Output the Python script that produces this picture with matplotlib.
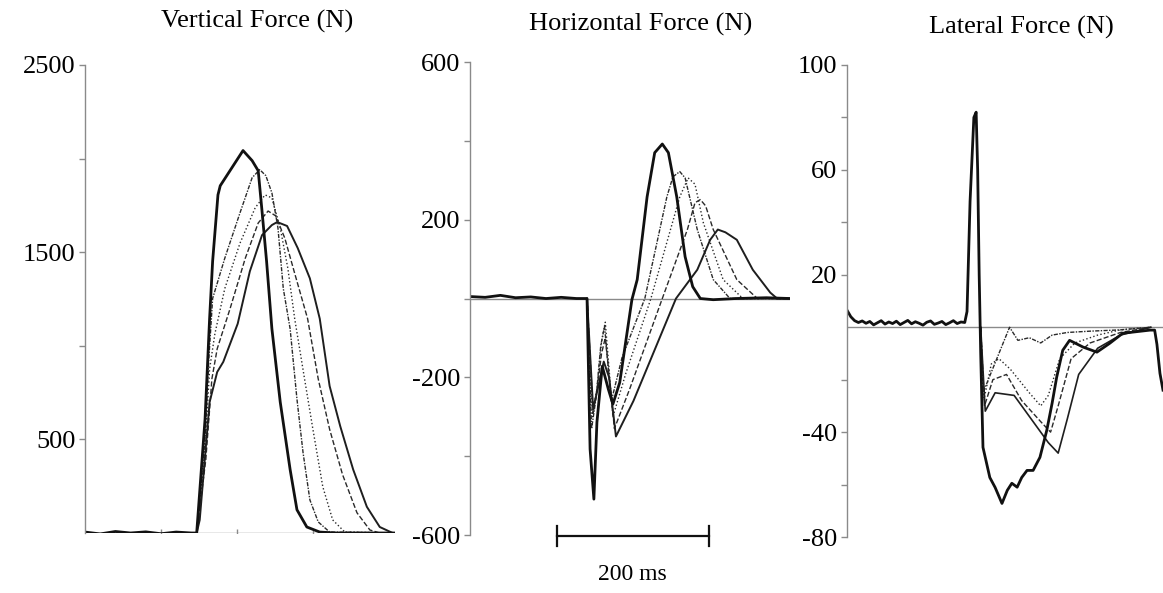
import numpy as np
import matplotlib
matplotlib.use('Agg')
import matplotlib.pyplot as plt

plt.rcParams['font.family'] = 'Liberation Serif'
plt.rcParams['axes.unicode_minus'] = False

# ---- Vertical force (time in ms, force in N) ----
vA_t = [0, 20, 40, 60, 80, 100, 120, 140, 147, 158, 164, 168, 175, 178, 208, 220, 228, 233, 239, 246, 257, 270, 279, 292, 309, 330, 360, 390, 408]
vA_f = [5, -5, 8, 0, 6, -4, 5, 0, 0, 608, 1145, 1452, 1806, 1855, 2043, 1989, 1935, 1720, 1452, 1091, 699, 339, 124, 32, 5, 0, 0, 0, 0]
vB_t = [147, 158, 163, 168, 184, 204, 220, 230, 238, 246, 254, 261, 270, 279, 287, 296, 307, 322, 408]
vB_f = [0, 500, 930, 1253, 1468, 1710, 1898, 1941, 1909, 1817, 1629, 1306, 1091, 715, 430, 177, 59, 5, 0]
vC_t = [147, 158, 164, 171, 184, 204, 224, 237, 246, 257, 267, 276, 289, 300, 313, 326, 342, 408]
vC_f = [0, 446, 876, 1065, 1306, 1548, 1737, 1806, 1790, 1629, 1414, 1145, 823, 554, 247, 70, 5, 0]
vD_t = [147, 159, 167, 174, 191, 211, 228, 241, 251, 263, 276, 293, 307, 322, 339, 358, 375, 388, 408]
vD_f = [0, 392, 823, 984, 1199, 1468, 1656, 1720, 1694, 1575, 1387, 1145, 823, 554, 312, 108, 16, 0, 0]
vE_t = [147, 151, 164, 174, 182, 201, 217, 233, 246, 253, 266, 280, 296, 309, 322, 336, 353, 371, 388, 405]
vE_f = [0, 70, 699, 860, 914, 1118, 1398, 1591, 1645, 1661, 1640, 1522, 1360, 1145, 785, 570, 339, 140, 32, 0]

# ---- Horizontal force ----
hA_t = [0, 20, 40, 60, 80, 100, 120, 140, 154, 158, 163, 167, 174, 182, 188, 197, 213, 220, 233, 243, 253, 261, 272, 283, 293, 303, 320, 350, 390, 421]
hA_f = [5, 3, 8, 2, 4, 0, 3, 0, 0, -382, -509, -314, -172, -230, -268, -213, -3, 48, 258, 370, 392, 370, 258, 106, 30, 0, -3, 0, 2, 0]
hB_t = [154, 160, 166, 172, 177, 186, 200, 230, 259, 267, 276, 283, 299, 320, 342, 421]
hB_f = [0, -330, -250, -120, -70, -260, -150, 0, 258, 309, 322, 306, 175, 48, 0, 0]
hC_t = [154, 161, 167, 173, 178, 188, 205, 238, 276, 287, 296, 307, 333, 359, 421]
hC_f = [0, -300, -230, -110, -60, -300, -190, 0, 258, 306, 290, 192, 48, 0, 0]
hD_t = [154, 162, 168, 173, 178, 190, 210, 253, 286, 296, 303, 310, 320, 351, 378, 421]
hD_f = [0, -290, -220, -140, -100, -330, -230, 0, 175, 243, 251, 235, 175, 48, 0, 0]
hE_t = [154, 162, 168, 176, 183, 192, 215, 271, 299, 316, 326, 336, 351, 372, 395, 404, 421]
hE_f = [0, -280, -230, -160, -200, -350, -260, 0, 73, 149, 175, 168, 149, 73, 15, 0, 0]

# ---- Lateral force ----
lA_t = [0, 5, 10, 15, 20, 25, 30, 35, 40, 45, 50, 55, 60, 65, 70, 75, 80, 85, 90, 95, 100,
        105, 110, 115, 120, 125, 130, 135, 140, 145, 150, 155, 158, 162, 167, 170, 172, 174, 176,
        179, 188, 195, 204, 211, 217, 224, 230, 237, 245, 254, 263, 270, 276, 284, 293, 311, 329,
        346, 363, 399, 405, 408, 412, 416]
lA_f = [6.5, 4, 2.5, 1.8, 2.4, 1.5, 2.2, 0.9, 1.7, 2.5, 1.2, 2.0, 1.4, 2.3, 1.0, 1.8, 2.6, 1.3, 2.1, 1.5, 0.8,
        1.9, 2.4, 1.1, 1.6, 2.2, 1.0, 1.7, 2.5, 1.4, 2.0, 1.8, 6, 48, 80, 82, 60, 20, -10,
        -45.8, -57.3, -61.1, -67.2, -62.2, -59.5, -61, -57.3, -54.6, -54.6, -49.6, -39.3, -29, -19.1, -8.8, -5, -7.6, -9.5,
        -6.1, -2.3, -1.1, -1.1, -6.5, -17.6, -24]
lB_t = [176, 179, 186, 200, 214, 225, 240, 255, 270, 290, 320, 360, 400]
lB_f = [0, -25, -20, -10, 0, -5, -4, -6, -3, -2, -1.5, -1, 0]
lC_t = [176, 180, 190, 200, 215, 240, 255, 265, 280, 300, 330, 360, 400]
lC_f = [0, -28, -14, -12, -16, -25, -30, -26, -12, -6, -3, -1, 0]
lD_t = [176, 181, 192, 210, 230, 255, 268, 278, 295, 320, 360, 400]
lD_f = [0, -30, -20, -18, -28, -36, -40, -30, -12, -6, -2, 0]
lE_t = [176, 182, 195, 220, 245, 265, 278, 290, 305, 330, 360, 400]
lE_f = [0, -32, -25, -26, -36, -44, -48, -35, -18, -8, -3, 0]

axis_gray = '#8a8a8a'
thin = dict(color='#2a2a2a', lw=1.0)

fig = plt.figure(figsize=(11.63, 5.93), dpi=100)

def style(ax, ylim, xlim, major, minor):
    ax.set_ylim(*ylim)
    ax.set_xlim(*xlim)
    for s in ['top', 'right', 'bottom']:
        ax.spines[s].set_visible(False)
    ax.spines['left'].set_color(axis_gray)
    ax.spines['left'].set_linewidth(1.0)
    ax.set_yticks(major)
    ax.set_yticks(minor, minor=True)
    ax.tick_params(axis='y', which='both', color=axis_gray, length=4, width=1,
                   labelsize=19, pad=3)
    ax.set_xticks([])
    ax.patch.set_alpha(0)

# Panel 1
ax1 = fig.add_axes([0.0731, 0.1012, 0.2665, 0.7892])
style(ax1, (0, 2500), (0, 408), [500, 1500, 2500], [1000, 2000])
ax1.axhline(0, color=axis_gray, lw=1.0, zorder=1)
ax1.plot([100, 200, 300], [0, 0, 0], '|', color=axis_gray, ms=6, zorder=1)
ax1.plot(vB_t, vB_f, ls=(0, (3, 1, 1, 1)), **thin)
ax1.plot(vC_t, vC_f, ls=':', **thin)
ax1.plot(vD_t, vD_f, ls='--', **thin)
ax1.plot(vE_t, vE_f, color='#1e1e1e', lw=1.4)
ax1.plot(vA_t, vA_f, color='#111111', lw=2.0)

# Panel 2
ax2 = fig.add_axes([0.4041, 0.0978, 0.2752, 0.7976])
style(ax2, (-600, 600), (0, 421), [600, 200, -200, -600], [400, 0, -400])
ax2.axhline(0, color=axis_gray, lw=1.0, zorder=1)
ax2.plot(hB_t, hB_f, ls=(0, (3, 1, 1, 1)), **thin)
ax2.plot(hC_t, hC_f, ls=':', **thin)
ax2.plot(hD_t, hD_f, ls='--', **thin)
ax2.plot(hE_t, hE_f, color='#1e1e1e', lw=1.4)
ax2.plot(hA_t, hA_f, color='#111111', lw=2.0)
# 200 ms scale bar
ax2.plot([114, 314], [-603, -603], color='#111111', lw=1.6, clip_on=False)
ax2.plot([114, 114], [-578, -628], color='#111111', lw=1.6, clip_on=False)
ax2.plot([314, 314], [-578, -628], color='#111111', lw=1.6, clip_on=False)
ax2.text(214, -700, '200 ms', ha='center', va='center', fontsize=17)

# Panel 3
ax3 = fig.add_axes([0.7283, 0.0944, 0.2717, 0.7960])
style(ax3, (-80, 100), (0, 416), [100, 60, 20, -40, -80], [80, 40, -20, -60])
ax3.axhline(0, color=axis_gray, lw=1.0, zorder=1)
ax3.plot(lB_t, lB_f, ls=(0, (3, 1, 1, 1)), **thin)
ax3.plot(lC_t, lC_f, ls=':', **thin)
ax3.plot(lD_t, lD_f, ls='--', **thin)
ax3.plot(lE_t, lE_f, color='#1e1e1e', lw=1.2)
ax3.plot(lA_t, lA_f, color='#111111', lw=2.0)

# panel titles
fig.text(0.221, 0.963, 'Vertical Force (N)', ha='center', va='center', fontsize=19)
fig.text(0.551, 0.958, 'Horizontal Force (N)', ha='center', va='center', fontsize=19)
fig.text(0.878, 0.953, 'Lateral Force (N)', ha='center', va='center', fontsize=19)

fig.savefig('out.png', dpi=100)
